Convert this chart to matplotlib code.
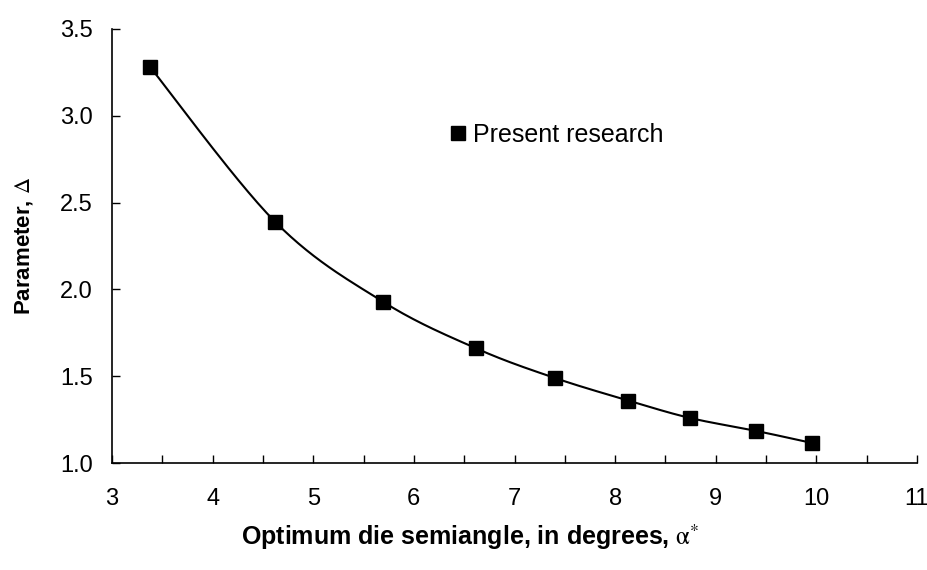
import numpy as np
import matplotlib
matplotlib.use("Agg")
import matplotlib.pyplot as plt
from matplotlib.ticker import MultipleLocator, FormatStrFormatter

alpha = [3.38, 4.62, 5.69, 6.62, 7.40, 8.13, 8.74, 9.40, 9.96]
delta = [3.28, 2.39, 1.93, 1.66, 1.49, 1.36, 1.26, 1.185, 1.115]
series_label = "Present research"
xlabel = r"Optimum die semiangle, in degrees, $\mathrm{\alpha}^{*}$"
ylabel = r"Parameter, $\Delta$"

plt.rcParams['font.family'] = ['Liberation Sans', 'DejaVu Sans']
plt.rcParams['mathtext.fontset'] = 'stix'

FS = 17

fig = plt.figure(figsize=(9.28, 5.70), dpi=100)
ax = fig.add_axes([112/928, 1-463/570, (917-112)/928, (463-29)/570])

# smoothed line through the data (Catmull-Rom like Excel's smooth line)
x = np.array(alpha); y = np.array(delta)
xs, ys = [], []
P = np.column_stack([x, y])
n = len(P)
for i in range(n-1):
    p0 = P[i-1] if i > 0 else P[i]
    p1, p2 = P[i], P[i+1]
    p3 = P[i+2] if i+2 < n else P[i+1]
    t = np.linspace(0, 1, 30)[:, None]
    seg = 0.5*((2*p1) + (-p0+p2)*t + (2*p0-5*p1+4*p2-p3)*t**2 + (-p0+3*p1-3*p2+p3)*t**3)
    xs.extend(seg[:, 0]); ys.extend(seg[:, 1])
ax.plot(xs, ys, color='black', lw=1.5, zorder=2)
ax.plot(alpha, delta, 's', color='black', ms=10.5, label=series_label, zorder=3)

ax.set_xlim(3, 11)
ax.set_ylim(1.0, 3.5)
ax.xaxis.set_major_locator(MultipleLocator(1))
ax.xaxis.set_minor_locator(MultipleLocator(0.5))
ax.yaxis.set_major_locator(MultipleLocator(0.5))
ax.yaxis.set_major_formatter(FormatStrFormatter('%.1f'))
ax.tick_params(axis='both', which='both', direction='in', length=6, width=1, labelsize=FS)
ax.tick_params(axis='x', pad=18)
ax.tick_params(axis='y', pad=14)
for s in ['top', 'right']:
    ax.spines[s].set_visible(False)
for s in ['left', 'bottom']:
    ax.spines[s].set_linewidth(1.2)

ax.set_ylabel(ylabel, fontsize=16, fontweight='bold')
ax.yaxis.set_label_coords((35-112)/(917-112), 0.5)
fig.text(470/928, 1-537/570, xlabel, fontsize=18, fontweight='bold', ha='center', va='center')

leg = ax.legend(loc='center left', bbox_to_anchor=((449-112)/(917-112), (463-135)/(463-29)),
                frameon=False, fontsize=18, handlelength=0.7, handletextpad=0.25,
                borderpad=0, borderaxespad=0, markerscale=0.9)

fig.savefig("out.png", dpi=100)
